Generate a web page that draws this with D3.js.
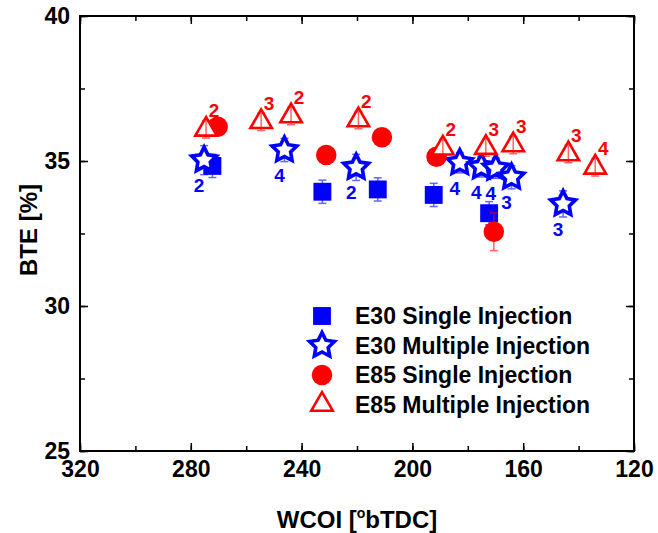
<!DOCTYPE html>
<html>
<head>
<meta charset="utf-8">
<script src="https://cdn.jsdelivr.net/npm/d3@7"></script>
<style>
  body { margin: 0; background: #fff; }
  text { font-family: "Liberation Sans", Arial, sans-serif; font-weight: bold; }
</style>
</head>
<body>
<svg id="chart" width="658" height="533"></svg>
<script>
// Data
var e30SingleX   = [272.2, 232.5, 212.5, 192.3, 172.3];
var e30SingleY   = [34.83, 33.94, 34.02, 33.83, 33.20];
var e30SingleErr = [0.40, 0.40, 0.40, 0.40, 0.40];

var e30MultiX    = [275.2, 246.2, 220.3, 182.9, 175.1, 169.9, 164.2, 145.6];
var e30MultiY    = [35.03, 35.38, 34.78, 34.94, 34.80, 34.75, 34.44, 33.52];
var e30MultiErr  = [0.50, 0.40, 0.45, 0.35, 0.35, 0.35, 0.40, 0.45];
var e30MultiLbl  = ["2", "4", "2", "4", "4", "4", "3", "3"];

var e85SingleX   = [270.3, 231.1, 211.0, 191.3, 170.6];
var e85SingleY   = [36.18, 35.21, 35.82, 35.15, 32.56];
var e85SingleErr = [0.30, 0.25, 0.25, 0.25, 0.65];

var e85MultiX    = [274.5, 254.6, 243.8, 219.5, 189.0, 173.5, 163.6, 143.7, 134.0];
var e85MultiY    = [36.09, 36.35, 36.55, 36.41, 35.44, 35.46, 35.55, 35.24, 34.78];
var e85MultiErr  = [0.30, 0.30, 0.30, 0.30, 0.30, 0.30, 0.30, 0.30, 0.30];
var e85MultiLbl  = ["2", "3", "2", "2", "2", "3", "3", "3", "4"];

var xTicks = [320, 280, 240, 200, 160, 120];
var yTicks = [25, 30, 35, 40];
var legendNames = ["E30 Single Injection", "E30 Multiple Injection", "E85 Single Injection", "E85 Multiple Injection"];

// Layout (plot frame in px)
var pL = 80, pR = 634, pT = 16, pB = 451;
var blue = "#0000ff", red = "#ff0000";

var svg = d3.select("#chart");

var x = d3.scaleLinear().domain([320, 120]).range([pL, pR]);
var y = d3.scaleLinear().domain([25, 40]).range([pB, pT]);

function zip(xs, ys, es, ls) {
    return xs.map(function (v, i) {
        return { x: v, y: ys[i], e: es[i], label: ls ? ls[i] : null };
    });
}
var e30Single = zip(e30SingleX, e30SingleY, e30SingleErr);
var e30Multi = zip(e30MultiX, e30MultiY, e30MultiErr, e30MultiLbl);
var e85Single = zip(e85SingleX, e85SingleY, e85SingleErr);
var e85Multi = zip(e85MultiX, e85MultiY, e85MultiErr, e85MultiLbl);

// Axes: ticks point inwards on all four sides
var xMinor = d3.range(120, 321, 20);
var yMinor = d3.range(25, 40.01, 2.5);

function noDomain(g) { g.select(".domain").remove(); }
function bigText(g) {
    g.select(".domain").remove();
    g.selectAll("text").attr("font-size", 23).attr("font-family", null);
}

svg.append("g").attr("transform", "translate(0," + pB + ")")
    .call(d3.axisBottom(x).tickValues(xMinor).tickSize(-5).tickFormat("")).call(noDomain);
svg.append("g").attr("transform", "translate(0," + pB + ")")
    .call(d3.axisBottom(x).tickValues(xTicks).tickSize(-8).tickPadding(10)).call(bigText);
svg.append("g").attr("transform", "translate(0," + pT + ")")
    .call(d3.axisTop(x).tickValues(xMinor).tickSize(-5).tickFormat("")).call(noDomain);
svg.append("g").attr("transform", "translate(0," + pT + ")")
    .call(d3.axisTop(x).tickValues(xTicks).tickSize(-8).tickFormat("")).call(noDomain);

svg.append("g").attr("transform", "translate(" + pL + ",0)")
    .call(d3.axisLeft(y).tickValues(yMinor).tickSize(-5).tickFormat("")).call(noDomain);
svg.append("g").attr("transform", "translate(" + pL + ",0)")
    .call(d3.axisLeft(y).tickValues(yTicks).tickSize(-8).tickPadding(10)).call(bigText);
svg.append("g").attr("transform", "translate(" + pR + ",0)")
    .call(d3.axisRight(y).tickValues(yMinor).tickSize(-5).tickFormat("")).call(noDomain);
svg.append("g").attr("transform", "translate(" + pR + ",0)")
    .call(d3.axisRight(y).tickValues(yTicks).tickSize(-8).tickFormat("")).call(noDomain);

svg.selectAll(".tick line").attr("stroke", "#000").attr("stroke-width", 1.5);
svg.selectAll(".tick text").attr("fill", "#000");

svg.append("rect")
    .attr("x", pL).attr("y", pT)
    .attr("width", pR - pL).attr("height", pB - pT)
    .attr("fill", "none").attr("stroke", "#000").attr("stroke-width", 2);

// Axis titles
var xt = svg.append("text")
    .attr("x", 357).attr("y", 528)
    .attr("text-anchor", "middle").attr("font-size", 24);
xt.append("tspan").text("WCOI [");
xt.append("tspan").attr("font-size", 14).attr("dy", -10).text("o");
xt.append("tspan").attr("dy", 10).text("bTDC]");

svg.append("text")
    .attr("transform", "translate(37," + 230 + ")rotate(-90)")
    .attr("text-anchor", "middle").attr("font-size", 24)
    .text("BTE [%]");

// Error bars
function errorBars(data, color) {
    var g = svg.append("g").attr("stroke", color).attr("stroke-width", 1.5).attr("opacity", 0.6);
    data.forEach(function (d) {
        var cx = x(d.x), y0 = y(d.y - d.e), y1 = y(d.y + d.e);
        g.append("line").attr("x1", cx).attr("x2", cx).attr("y1", y0).attr("y2", y1);
        g.append("line").attr("x1", cx - 4).attr("x2", cx + 4).attr("y1", y0).attr("y2", y0);
        g.append("line").attr("x1", cx - 4).attr("x2", cx + 4).attr("y1", y1).attr("y2", y1);
    });
}

// fatter five-point star than d3.symbolStar (inner radius half of outer)
var fatStar = {
    draw: function (ctx, size) {
        var R = Math.sqrt(size), r = R * 0.5;
        for (var i = 0; i < 10; i++) {
            var a = -Math.PI / 2 + i * Math.PI / 5;
            var rr = i % 2 ? r : R;
            if (i === 0) ctx.moveTo(rr * Math.cos(a), rr * Math.sin(a));
            else ctx.lineTo(rr * Math.cos(a), rr * Math.sin(a));
        }
        ctx.closePath();
    }
};

var squareSym = d3.symbol().type(d3.symbolSquare).size(320);
var starSym = d3.symbol().type(fatStar).size(170);
var circleSym = d3.symbol().type(d3.symbolCircle).size(330);
var triSym = d3.symbol().type(d3.symbolTriangle).size(200);

function markers(data, sym, fill, stroke, sw) {
    svg.append("g").selectAll("path").data(data).join("path")
        .attr("transform", function (d) { return "translate(" + x(d.x) + "," + y(d.y) + ")"; })
        .attr("d", sym)
        .attr("fill", fill).attr("stroke", stroke).attr("stroke-width", sw);
}

errorBars(e30Single, blue);
markers(e30Single, squareSym, blue, "none", 0);
errorBars(e30Multi, blue);
markers(e30Multi, starSym, "#fff", blue, 3.6);
errorBars(e85Single, red);
markers(e85Single, circleSym, red, "none", 0);
markers(e85Multi, triSym, "#fff", red, 2.6);
errorBars(e85Multi, red);

// Point labels
svg.append("g").selectAll("text").data(e30Multi).join("text")
    .attr("x", function (d) { return x(d.x) - 5; })
    .attr("y", function (d) { return y(d.y) + 32; })
    .attr("text-anchor", "middle").attr("font-size", 19).attr("fill", blue)
    .text(function (d) { return d.label; });
svg.append("g").selectAll("text").data(e85Multi).join("text")
    .attr("x", function (d) { return x(d.x) + 8; })
    .attr("y", function (d) { return y(d.y) - 12; })
    .attr("text-anchor", "middle").attr("font-size", 19).attr("fill", red)
    .text(function (d) { return d.label; });

// Legend
var legSyms = [
    { sym: squareSym, fill: blue, stroke: "none", sw: 0 },
    { sym: starSym, fill: "#fff", stroke: blue, sw: 3.6 },
    { sym: circleSym, fill: red, stroke: "none", sw: 0 },
    { sym: triSym, fill: "#fff", stroke: red, sw: 2.6 }
];
var leg = svg.append("g");
legendNames.forEach(function (name, i) {
    var ly = 316 + i * 29.5;
    var s = legSyms[i];
    leg.append("path")
        .attr("transform", "translate(322," + ly + ")")
        .attr("d", s.sym)
        .attr("fill", s.fill).attr("stroke", s.stroke).attr("stroke-width", s.sw);
    leg.append("text")
        .attr("x", 355).attr("y", ly + 8)
        .attr("font-size", 23).attr("fill", "#000")
        .text(name);
});
</script>
</body>
</html>
